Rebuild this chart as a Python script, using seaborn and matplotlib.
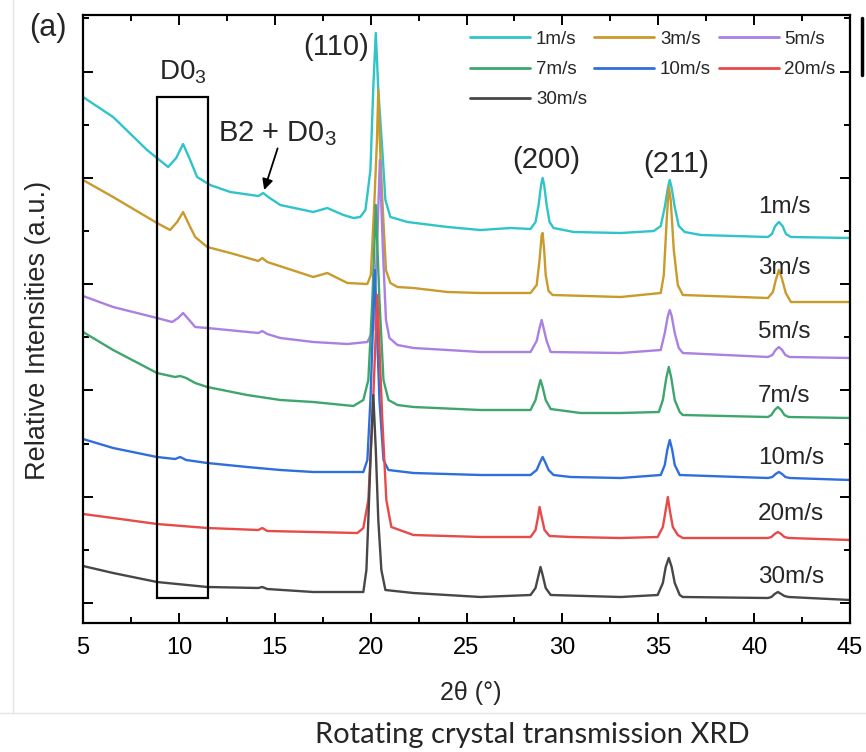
import matplotlib
matplotlib.use("Agg")
import matplotlib.pyplot as plt
from matplotlib.ticker import MultipleLocator, NullFormatter
from matplotlib.patches import Rectangle
from matplotlib.lines import Line2D
import pandas as pd
import seaborn as sns

# ---- XRD patterns (2theta in degrees, stacked intensity in a.u.) ----
speeds = ["1m/s", "3m/s", "5m/s", "7m/s", "10m/s", "20m/s", "30m/s"]
colors = ["#2fc4c9", "#c99a2c", "#aa80e0", "#3ea66d", "#2e6fdc", "#e84a4a", "#474747"]

tt_1 = [5.00, 6.57, 8.34, 9.44, 9.86, 10.22, 10.59, 10.95, 11.63, 12.68, 14.14, 14.40, 14.66, 15.29,
        17.01, 17.74, 18.58, 19.10, 19.46, 19.73, 19.99, 20.14, 20.27, 20.40, 20.61, 20.77, 21.03,
        21.92, 24.01, 25.73, 27.30, 28.34, 28.60, 28.76, 28.89, 28.97, 29.05, 29.18, 29.33, 29.54,
        30.59, 33.04, 34.77, 35.13, 35.34, 35.50, 35.60, 35.70, 35.86, 36.07, 36.38, 37.22, 40.72,
        40.93, 41.10, 41.29, 41.48, 41.66, 41.92, 45.00]
I_1 = [506, 486, 453, 436, 445, 459, 443, 426, 418, 411, 407, 410, 406, 398,
       391, 395, 388, 385, 386, 393, 433, 516, 570, 513, 453, 403, 386,
       381, 376, 373, 375, 374, 381, 398, 418, 425, 418, 398, 381, 375,
       371, 370, 372, 377, 396, 415, 423, 415, 396, 377, 371, 368, 366,
       369, 377, 381, 377, 369, 366, 365]

tt_3 = [5.00, 6.57, 8.86, 9.54, 9.91, 10.22, 10.54, 10.85, 11.48, 12.68, 14.14, 14.35, 14.61, 17.01,
        17.74, 18.79, 19.83, 20.01, 20.20, 20.33, 20.40, 20.48, 20.61, 20.80, 21.03, 21.40, 22.23,
        24.01, 25.73, 28.34, 28.66, 28.81, 28.92, 28.97, 29.05, 29.13, 29.28, 29.49, 33.04, 35.13,
        35.29, 35.44, 35.55, 35.65, 35.81, 36.02, 36.28, 40.72, 40.98, 41.13, 41.29, 41.44, 41.65,
        41.92, 45.00]
I_3 = [423, 406, 380, 373, 381, 391, 378, 366, 356, 350, 342, 345, 341, 326,
       330, 320, 319, 328, 403, 463, 513, 463, 403, 333, 320, 316, 315,
       311, 310, 310, 318, 343, 368, 370, 353, 328, 312, 308, 306, 310,
       328, 383, 416, 403, 353, 318, 308, 305, 311, 323, 333, 325, 310,
       301, 301]

tt_5 = [5.00, 6.57, 8.86, 9.65, 9.96, 10.22, 10.54, 10.85, 11.48, 14.14, 14.35, 14.61, 15.29, 17.01,
        18.79, 19.83, 20.14, 20.33, 20.48, 20.64, 20.80, 20.98, 21.40, 22.23, 24.01, 25.73, 28.34,
        28.66, 28.81, 28.92, 29.02, 29.18, 29.39, 33.04, 35.13, 35.34, 35.50, 35.60, 35.70, 35.86,
        36.07, 36.28, 40.72, 40.95, 41.12, 41.29, 41.46, 41.63, 41.85, 45.00]
I_5 = [307, 296, 285, 281, 285, 290, 283, 276, 275, 270, 272, 269, 265, 261,
       259, 261, 273, 353, 443, 353, 283, 265, 258, 255, 253, 251, 251,
       262, 275, 283, 275, 262, 251, 250, 253, 270, 287, 293, 287, 270,
       255, 250, 246, 248, 253, 256, 253, 248, 246, 245]

tt_7 = [5.00, 6.57, 8.86, 9.80, 10.07, 10.38, 10.85, 11.48, 13.56, 15.29, 17.01, 19.10, 19.62, 19.88,
        20.09, 20.27, 20.46, 20.67, 20.93, 21.40, 22.23, 25.73, 28.34, 28.60, 28.76, 28.86, 28.97,
        29.13, 29.39, 30.95, 33.04, 35.03, 35.24, 35.42, 35.55, 35.68, 35.86, 36.12, 36.28, 40.72,
        40.90, 41.07, 41.24, 41.41, 41.58, 41.80, 45.00]
I_7 = [271, 253, 230, 226, 227, 225, 220, 216, 208, 203, 201, 197, 203, 223,
       303, 398, 303, 223, 203, 198, 196, 193, 193, 203, 216, 223, 216,
       203, 194, 190, 190, 191, 203, 225, 236, 225, 203, 191, 188, 186,
       188, 193, 196, 193, 188, 186, 185]

tt_10 = [5.00, 6.57, 8.86, 9.80, 10.07, 10.38, 11.48, 13.56, 15.29, 17.01, 19.62, 19.83, 19.99, 20.22,
         20.46, 20.67, 20.93, 22.23, 25.73, 28.34, 28.66, 28.84, 28.97, 29.10, 29.28, 29.54, 30.43,
         33.04, 35.13, 35.34, 35.47, 35.60, 35.73, 35.86, 36.12, 40.72, 40.95, 41.12, 41.29, 41.46,
         41.63, 41.85, 45.00]
I_10 = [164, 155, 146, 144, 146, 143, 140, 136, 133, 131, 131, 143, 203, 333,
        203, 143, 133, 130, 128, 128, 133, 141, 146, 141, 133, 128, 126,
        125, 128, 138, 153, 163, 153, 138, 128, 125, 126, 129, 131, 129,
        126, 125, 123]

tt_20 = [5.00, 6.57, 8.86, 11.48, 14.14, 14.35, 14.61, 17.01, 19.31, 19.62, 19.88, 20.09, 20.35, 20.61,
         20.82, 21.08, 22.23, 25.73, 28.34, 28.60, 28.73, 28.81, 28.92, 29.07, 29.33, 30.43, 33.04,
         34.97, 35.24, 35.39, 35.50, 35.60, 35.76, 36.02, 36.28, 40.72, 40.90, 41.07, 41.24, 41.41,
         41.58, 41.80, 45.00]
I_20 = [89, 85, 79, 75, 73, 75, 72, 71, 70, 75, 103, 183, 308, 183,
        103, 76, 68, 66, 66, 73, 86, 96, 86, 73, 67, 66, 65,
        66, 76, 93, 106, 93, 76, 68, 65, 65, 66, 69, 71, 69,
        66, 65, 63]

tt_30 = [5.00, 6.57, 8.86, 11.48, 14.14, 14.35, 14.61, 17.01, 19.62, 19.78, 19.88, 20.01, 20.14, 20.27,
         20.40, 20.56, 20.77, 22.23, 25.73, 28.34, 28.60, 28.76, 28.86, 28.97, 29.13, 29.39, 33.04,
         34.97, 35.24, 35.39, 35.55, 35.70, 35.86, 36.12, 36.28, 40.72, 40.90, 41.07, 41.24, 41.41,
         41.58, 41.80, 45.00]
I_30 = [37, 30, 21, 16, 15, 16, 14, 11, 11, 33, 83, 153, 208, 153,
        83, 33, 13, 10, 6, 8, 15, 28, 36, 28, 15, 8, 6,
        8, 20, 36, 45, 36, 20, 8, 6, 5, 6, 9, 11, 9,
        7, 6, 3]

# peak / phase annotations: (text, 2theta, intensity)
peak_labels = [("(110)", 19.93, 556), ("(200)", 29.15, 443), ("(211)", 35.91, 439)]
curve_label_x = 40.2
curve_label_y = [396, 335, 271, 207, 145, 89, 26]
d03_box = (8.86, 11.53, 5, 506)          # x0, x1, y0, y1

patterns = [(tt_1, I_1), (tt_3, I_3), (tt_5, I_5), (tt_7, I_7),
            (tt_10, I_10), (tt_20, I_20), (tt_30, I_30)]
frames = []
for name, (tt, inten) in zip(speeds, patterns):
    frames.append(pd.DataFrame({"2theta": tt, "I": inten, "speed": name}))
df = pd.concat(frames, ignore_index=True)

# ---- style ----
sns.set_style("ticks")
plt.rcParams["font.family"] = ["Liberation Sans", "DejaVu Sans"]
plt.rcParams["mathtext.fontset"] = "custom"
plt.rcParams["mathtext.rm"] = "Liberation Sans"
plt.rcParams["mathtext.it"] = "Liberation Sans:italic"
plt.rcParams["mathtext.bf"] = "Liberation Sans:bold"
plt.rcParams["lines.solid_joinstyle"] = "round"

fig = plt.figure(figsize=(8.66, 7.52), dpi=100)
ax = fig.add_axes([83 / 866, 1 - 623 / 752, 767 / 866, 608 / 752])

sns.lineplot(data=df, x="2theta", y="I", hue="speed", hue_order=speeds,
             palette=colors, estimator=None, sort=False, lw=1.7, legend=False, ax=ax)

ax.set_xlim(5, 45)
ax.set_ylim(-20, 588)
ax.xaxis.set_major_locator(MultipleLocator(5))
ax.xaxis.set_minor_locator(MultipleLocator(2.5))
ax.yaxis.set_major_locator(MultipleLocator(106.3))
ax.yaxis.set_minor_locator(MultipleLocator(53.15))
ax.yaxis.set_major_formatter(NullFormatter())
ax.tick_params(which="both", direction="in", top=True, right=True, width=1.4,
               labelsize=17, pad=10, colors="black")
ax.tick_params(which="major", length=7)
ax.tick_params(which="minor", length=4)
for sp in ax.spines.values():
    sp.set_linewidth(1.6)
    sp.set_color("black")

ax.set_xlabel("2θ (°)", fontsize=18)
ax.set_ylabel("Relative Intensities (a.u.)", fontsize=19.5)
ax.xaxis.set_label_coords(0.506, -0.095)
ax.yaxis.set_label_coords(-0.042, 0.482)

# D0_3 window and arrows
x0, x1, y0, y1 = d03_box
ax.add_patch(Rectangle((x0, y0), x1 - x0, y1 - y0, fill=False, lw=1.6, ec="black", zorder=5))
ax.text((x0 + x1) / 2, 531, "D0$_3$", fontsize=20, ha="center", va="center")
ax.annotate("B2 + D0$_3$", xy=(14.45, 413), xytext=(12.05, 469), fontsize=21,
            ha="left", va="center",
            arrowprops=dict(arrowstyle="-|>", color="black", lw=1.3,
                            mutation_scale=16, shrinkA=0, shrinkB=0,
                            patchA=None, relpos=(0.5, 0.0)))
for txt, px, py in peak_labels:
    ha = "right" if txt == "(110)" else "center"
    ax.text(px, py, txt, fontsize=21, ha=ha, va="center")
for name, yy in zip(speeds, curve_label_y):
    ax.text(curve_label_x, yy, name, fontsize=17.5, ha="left", va="center")

# legend in three columns, filled row by row
order = [0, 3, 6, 1, 4, 2, 5]
handles = [Line2D([], [], color=colors[i], lw=2) for i in order]
ax.legend(handles, [speeds[i] for i in order], ncol=3, loc="upper left",
          bbox_to_anchor=(0.505, 0.974), frameon=False, fontsize=13.5,
          handlelength=3.2, handletextpad=0.3, columnspacing=0.4,
          labelspacing=0.7, borderaxespad=0, borderpad=0)

fig.text(48 / 866, 1 - 28 / 752, "(a)", fontsize=22, ha="center", va="center")
fig.text(532 / 866, 1 - 735 / 752, "Rotating crystal transmission XRD",
         fontsize=21, ha="center", va="center", family=["Lato", "DejaVu Sans"])

# slide guide lines and neighbouring frame edge
fig.add_artist(Line2D([13 / 866, 13 / 866], [1 - 713 / 752, 1], color="#e4e4e4", lw=1))
fig.add_artist(Line2D([0, 1], [1 - 713 / 752, 1 - 713 / 752], color="#e4e4e4", lw=1))
fig.add_artist(Line2D([862 / 866, 862 / 866], [1 - 18 / 752, 1 - 75 / 752], color="black", lw=2.5))

fig.savefig("out.png", dpi=100)
